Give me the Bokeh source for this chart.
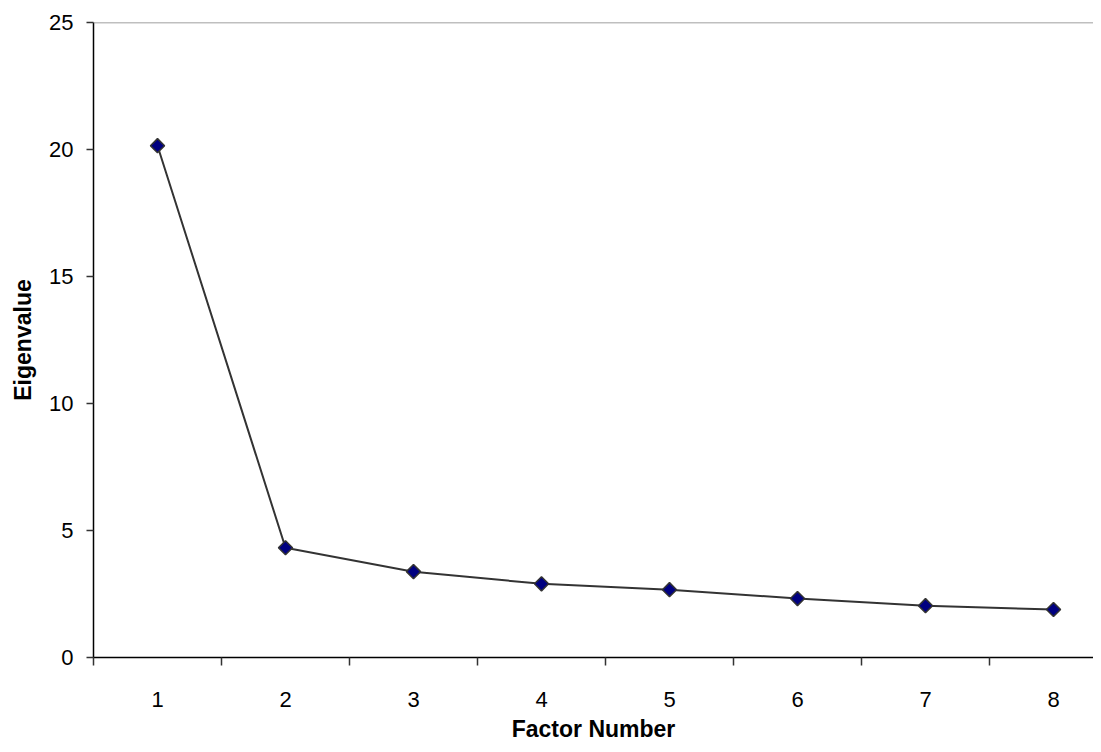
import math
from bokeh.plotting import figure
from bokeh.models import FixedTicker, Range1d, Span, ColumnDataSource
from bokeh.embed import file_html
from bokeh.resources import INLINE

factors = [1, 2, 3, 4, 5, 6, 7, 8]
eigenvalues = [20.15, 4.32, 3.38, 2.9, 2.67, 2.32, 2.04, 1.89]
y_ticks = [0, 5, 10, 15, 20, 25]

src = ColumnDataSource(dict(x=factors, y=eigenvalues))

p = figure(width=1093, height=744, output_backend="svg", toolbar_location=None,
           x_range=Range1d(0.5, 8.3125), y_range=Range1d(0, 25),
           min_border_left=93, min_border_right=0, min_border_top=22, min_border_bottom=87)
p.outline_line_color = None
p.grid.visible = False
p.background_fill_color = "white"
p.border_fill_color = "white"

top = Span(location=25, dimension="width", line_color="#808080", line_width=1.5)
p.add_layout(top)

p.line("x", "y", source=src, line_color="#333333", line_width=2)
p.scatter("x", "y", source=src, marker="square", size=10, angle=math.pi / 4,
          fill_color="#000080", line_color="#333333", line_width=1.5)

font = "Liberation Sans"
p.xaxis.ticker = FixedTicker(ticks=factors, minor_ticks=[i + 0.5 for i in range(0, 9)])
p.xaxis.major_tick_out = 0
p.xaxis.major_tick_in = 0
p.xaxis.minor_tick_out = 8
p.xaxis.minor_tick_in = 0
p.xaxis.minor_tick_line_color = "#333333"
p.xaxis.minor_tick_line_width = 1.5
p.xaxis.major_label_standoff = 26
p.xaxis.axis_label = "Factor Number"
p.xaxis.axis_label_standoff = 6

p.yaxis.ticker = FixedTicker(ticks=y_ticks)
p.yaxis.major_tick_out = 7
p.yaxis.major_tick_in = 0
p.yaxis.minor_tick_line_color = None
p.yaxis.major_label_standoff = 13
p.yaxis.axis_label = "Eigenvalue"
p.yaxis.axis_label_standoff = 10

for ax in (p.xaxis, p.yaxis):
    ax.axis_line_color = "black"
    ax.axis_line_width = 1.5
    ax.major_tick_line_color = "#333333"
    ax.major_tick_line_width = 1.5
    ax.major_label_text_font = font
    ax.major_label_text_font_size = "22px"
    ax.major_label_text_color = "black"
    ax.axis_label_text_font = font
    ax.axis_label_text_font_size = "23px"
    ax.axis_label_text_font_style = "bold"
    ax.axis_label_text_color = "black"

open("out.html", "w").write(file_html(p, INLINE))
